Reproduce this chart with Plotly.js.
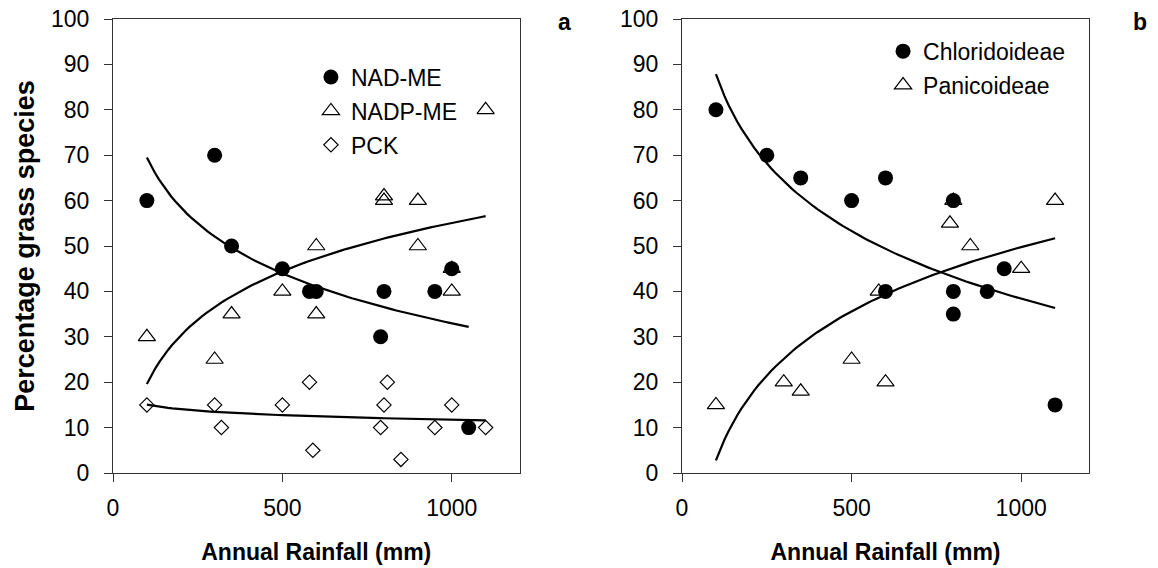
<!DOCTYPE html>
<html>
<head>
<meta charset="utf-8">
<script src="https://cdn.plot.ly/plotly-3.0.1.min.js"></script>
<style>html,body{margin:0;padding:0;background:#fff;}#chart{width:1158px;height:568px;}</style>
</head>
<body>
<div id="chart"></div>
<script>
// Panel a: photosynthetic subtypes
const nadmeX  = [100, 300, 350, 500, 580, 600, 800, 790, 950, 1000, 1050];
const nadmeY  = [60, 70, 50, 45, 40, 40, 40, 30, 40, 45, 10];
const nadpmeX = [100, 300, 350, 500, 600, 600, 800, 800, 900, 900, 1000, 1000, 1100];
const nadpmeY = [30, 25, 35, 40, 50, 35, 60, 61, 60, 50, 45, 40, 80];
const pckX    = [100, 300, 320, 500, 580, 590, 800, 790, 810, 850, 950, 1000, 1100];
const pckY    = [15, 15, 10, 15, 20, 5, 15, 10, 20, 3, 10, 15, 10];
// Panel b: subfamilies
const chlorX  = [100, 250, 350, 500, 600, 800, 600, 800, 800, 900, 950, 1100];
const chlorY  = [80, 70, 65, 60, 65, 60, 40, 40, 35, 40, 45, 15];
const panicX  = [100, 300, 350, 500, 580, 600, 800, 790, 850, 1000, 1100];
const panicY  = [15, 20, 18, 25, 40, 20, 60, 55, 50, 45, 60];

const xTicks = [0, 500, 1000];
const yTicks = [0, 10, 20, 30, 40, 50, 60, 70, 80, 90, 100];

// logarithmic least-squares trendline (y = a ln x + b) computed from the data
function logFit(xs, ys) {
  const lx = xs.map(Math.log);
  const n = xs.length;
  const mx = lx.reduce((s, v) => s + v, 0) / n;
  const my = ys.reduce((s, v) => s + v, 0) / n;
  let sxy = 0, sxx = 0;
  for (let i = 0; i < n; i++) { sxy += (lx[i] - mx) * (ys[i] - my); sxx += (lx[i] - mx) ** 2; }
  const a = sxy / sxx, b = my - a * mx;
  const x0 = Math.min(...xs), x1 = Math.max(...xs);
  const fx = [], fy = [];
  for (let k = 0; k <= 80; k++) { const x = x0 + (x1 - x0) * k / 80; fx.push(x); fy.push(a * Math.log(x) + b); }
  return {x: fx, y: fy};
}

const FONT = 'Liberation Sans, Arial, sans-serif';
const circ = {symbol: 'circle', size: 15, color: 'black', line: {width: 0}};
const tri  = {symbol: 'triangle-up-open', size: 15, color: 'black', line: {width: 1.2, color: 'black'}};
const dia  = {symbol: 'diamond-open', size: 11, color: 'black', line: {width: 1.2, color: 'black'}};
const fitLine = {color: 'black', width: 2.2};

function fitTrace(xs, ys, xa, ya) {
  const f = logFit(xs, ys);
  return {x: f.x, y: f.y, mode: 'lines', line: fitLine, showlegend: false, hoverinfo: 'skip', xaxis: xa, yaxis: ya};
}

// the y tick labels live on overlay axes (y3, y4) so they can sit farther from the short tick marks
const traces = [
  fitTrace(nadmeX, nadmeY, 'x', 'y3'),
  fitTrace(nadpmeX, nadpmeY, 'x', 'y'),
  fitTrace(pckX, pckY, 'x', 'y'),
  {x: nadmeX, y: nadmeY, mode: 'markers', name: 'NAD-ME', marker: circ, xaxis: 'x', yaxis: 'y', legend: 'legend', legendgroup: 'g1'},
  {x: nadpmeX, y: nadpmeY, mode: 'markers', name: 'NADP-ME', marker: tri, xaxis: 'x', yaxis: 'y', legend: 'legend', legendgroup: 'g2'},
  {x: pckX, y: pckY, mode: 'markers', name: 'PCK', marker: dia, xaxis: 'x', yaxis: 'y', legend: 'legend', legendgroup: 'g3'},
  fitTrace(chlorX, chlorY, 'x2', 'y4'),
  fitTrace(panicX, panicY, 'x2', 'y2'),
  {x: chlorX, y: chlorY, mode: 'markers', name: 'Chloridoideae', marker: circ, xaxis: 'x2', yaxis: 'y2', legend: 'legend2', legendgroup: 'h1'},
  {x: panicX, y: panicY, mode: 'markers', name: 'Panicoideae', marker: tri, xaxis: 'x2', yaxis: 'y2', legend: 'legend2', legendgroup: 'h2'}
];

function xAxis(domain, anchor) {
  return {
    domain: domain, anchor: anchor, range: [0, 1200], tickvals: xTicks,
    showline: true, mirror: true, linecolor: '#333', linewidth: 1,
    ticks: 'outside', ticklen: 8, tickcolor: '#333', showgrid: false, zeroline: false,
    ticklabelstandoff: 6,
    tickfont: {family: FONT, size: 23, color: 'black'},
    title: {text: 'Annual Rainfall (mm)', standoff: 24, font: {family: FONT, size: 23, color: 'black', weight: 'bold'}}
  };
}
function yAxis(anchor) {
  return {
    anchor: anchor, range: [0, 100], tickvals: yTicks, showticklabels: false,
    showline: true, mirror: true, linecolor: '#333', linewidth: 1,
    ticks: 'outside', ticklen: 8, tickcolor: '#333', showgrid: false, zeroline: false
  };
}
function yLabelAxis(anchor, over, withTitle) {
  const ax = {
    anchor: anchor, overlaying: over, side: 'left', range: [0, 100], tickvals: yTicks,
    showline: false, showgrid: false, zeroline: false,
    ticks: 'outside', ticklen: 18, tickcolor: 'rgba(0,0,0,0)',
    tickfont: {family: FONT, size: 23, color: 'black'}
  };
  if (withTitle) ax.title = {text: 'Percentage grass species', standoff: 8, font: {family: FONT, size: 27, color: 'black', weight: 'bold'}};
  return ax;
}

const layout = {
  width: 1158, height: 568,
  margin: {l: 113, r: 69, t: 19, b: 95},
  paper_bgcolor: 'white', plot_bgcolor: 'white',
  font: {family: FONT, color: 'black'},
  xaxis: xAxis([0, 0.4165], 'y'),
  yaxis: yAxis('x'),
  xaxis2: xAxis([0.583, 1], 'y2'),
  yaxis2: yAxis('x2'),
  yaxis3: yLabelAxis('x', 'y', true),
  yaxis4: yLabelAxis('x2', 'y2', false),
  legend: {x: 0.2028, y: 0.9194, xanchor: 'left', yanchor: 'top', bgcolor: 'rgba(0,0,0,0)', borderwidth: 0,
           tracegroupgap: 1, font: {family: FONT, size: 23, color: 'black'}},
  legend2: {x: 0.789, y: 0.9764, xanchor: 'left', yanchor: 'top', bgcolor: 'rgba(0,0,0,0)', borderwidth: 0,
            tracegroupgap: 1, font: {family: FONT, size: 23, color: 'black'}},
  annotations: [
    {text: 'a', xref: 'paper', yref: 'paper', x: 0.463, y: 0.993, xanchor: 'center', yanchor: 'middle', showarrow: false,
     font: {family: FONT, size: 23, color: 'black', weight: 'bold'}},
    {text: 'b', xref: 'paper', yref: 'paper', x: 1.052, y: 0.993, xanchor: 'center', yanchor: 'middle', showarrow: false,
     font: {family: FONT, size: 23, color: 'black', weight: 'bold'}}
  ],
  showlegend: true
};

Plotly.newPlot('chart', traces, layout, {displayModeBar: false, staticPlot: true});
</script>
</body>
</html>
